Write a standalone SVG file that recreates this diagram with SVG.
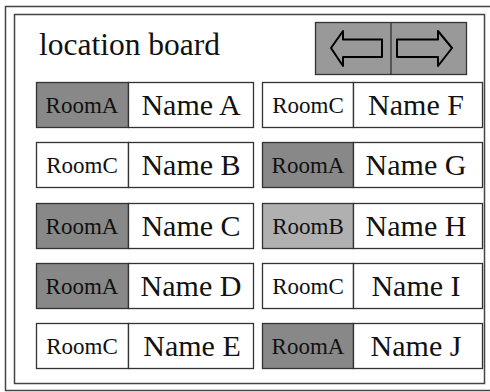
<svg xmlns="http://www.w3.org/2000/svg" width="490" height="392" viewBox="0 0 490 392">
<style>
.frame{fill:none;stroke:#444;stroke-width:1.5}
.box{fill:#fff;stroke:#333;stroke-width:1.3}
.a{fill:#888;stroke:#333;stroke-width:1.3}
.b{fill:#b0b0b0;stroke:#333;stroke-width:1.3}
.c{fill:#fff;stroke:#333;stroke-width:1.3}
.room{font-family:"Liberation Serif","Times New Roman",serif;font-size:23px;fill:#111;text-anchor:middle}
.name{font-family:"Liberation Serif","Times New Roman",serif;font-size:30px;fill:#111;text-anchor:middle}
.title{font-family:"Liberation Serif","Times New Roman",serif;font-size:31.5px;fill:#111}
.btn{fill:#999;stroke:#333;stroke-width:1.3}
.arrow{fill:none;stroke:#000;stroke-width:2;stroke-linejoin:round}
</style>
<rect width="490" height="392" fill="#fff"/>
<rect class="frame" x="5.5" y="6.5" width="500" height="384"/>
<rect class="frame" x="14.5" y="14.5" width="470" height="369"/>
<text class="title" x="39" y="55">location board</text>
<g id="nav">
<rect class="btn" x="315.5" y="22.5" width="151" height="52"/>
<line x1="391" y1="22.5" x2="391" y2="74.5" stroke="#333" stroke-width="1.3"/>
<polygon class="arrow" points="331,48 343,31 343,39.5 382,39.5 382,57 343,57 343,66"/>
<polygon class="arrow" points="452,48 438,31 438,39.5 397,39.5 397,57 438,57 438,66"/>
</g>
<g id="rowA"><rect class="a" x="36.5" y="82.5" width="92" height="45"/><rect class="box" x="128.5" y="82.5" width="125" height="45"/><text class="room" x="82" y="113">RoomA</text><text class="name" x="191" y="115">Name A</text></g>
<g id="rowB"><rect class="c" x="36.5" y="142.5" width="92" height="45"/><rect class="box" x="128.5" y="142.5" width="125" height="45"/><text class="room" x="82" y="173">RoomC</text><text class="name" x="191" y="175">Name B</text></g>
<g id="rowC"><rect class="a" x="36.5" y="203.5" width="92" height="45"/><rect class="box" x="128.5" y="203.5" width="125" height="45"/><text class="room" x="82" y="234">RoomA</text><text class="name" x="191" y="236">Name C</text></g>
<g id="rowD"><rect class="a" x="36.5" y="263.5" width="92" height="45"/><rect class="box" x="128.5" y="263.5" width="125" height="45"/><text class="room" x="82" y="294">RoomA</text><text class="name" x="191" y="296">Name D</text></g>
<g id="rowE"><rect class="c" x="36.5" y="323.5" width="92" height="45"/><rect class="box" x="128.5" y="323.5" width="125" height="45"/><text class="room" x="82" y="354">RoomC</text><text class="name" x="192" y="356">Name E</text></g>
<g id="rowF"><rect class="c" x="262.5" y="82.5" width="91" height="45"/><rect class="box" x="353.5" y="82.5" width="129" height="45"/><text class="room" x="308" y="113">RoomC</text><text class="name" x="416" y="115">Name F</text></g>
<g id="rowG"><rect class="a" x="262.5" y="142.5" width="91" height="45"/><rect class="box" x="353.5" y="142.5" width="129" height="45"/><text class="room" x="308" y="173">RoomA</text><text class="name" x="416" y="175">Name G</text></g>
<g id="rowH"><rect class="b" x="262.5" y="203.5" width="91" height="45"/><rect class="box" x="353.5" y="203.5" width="129" height="45"/><text class="room" x="308" y="234">RoomB</text><text class="name" x="416" y="236">Name H</text></g>
<g id="rowI"><rect class="c" x="262.5" y="263.5" width="91" height="45"/><rect class="box" x="353.5" y="263.5" width="129" height="45"/><text class="room" x="308" y="294">RoomC</text><text class="name" x="416" y="296">Name I</text></g>
<g id="rowJ"><rect class="a" x="262.5" y="323.5" width="91" height="45"/><rect class="box" x="353.5" y="323.5" width="129" height="45"/><text class="room" x="308" y="354">RoomA</text><text class="name" x="416" y="356">Name J</text></g>
</svg>
